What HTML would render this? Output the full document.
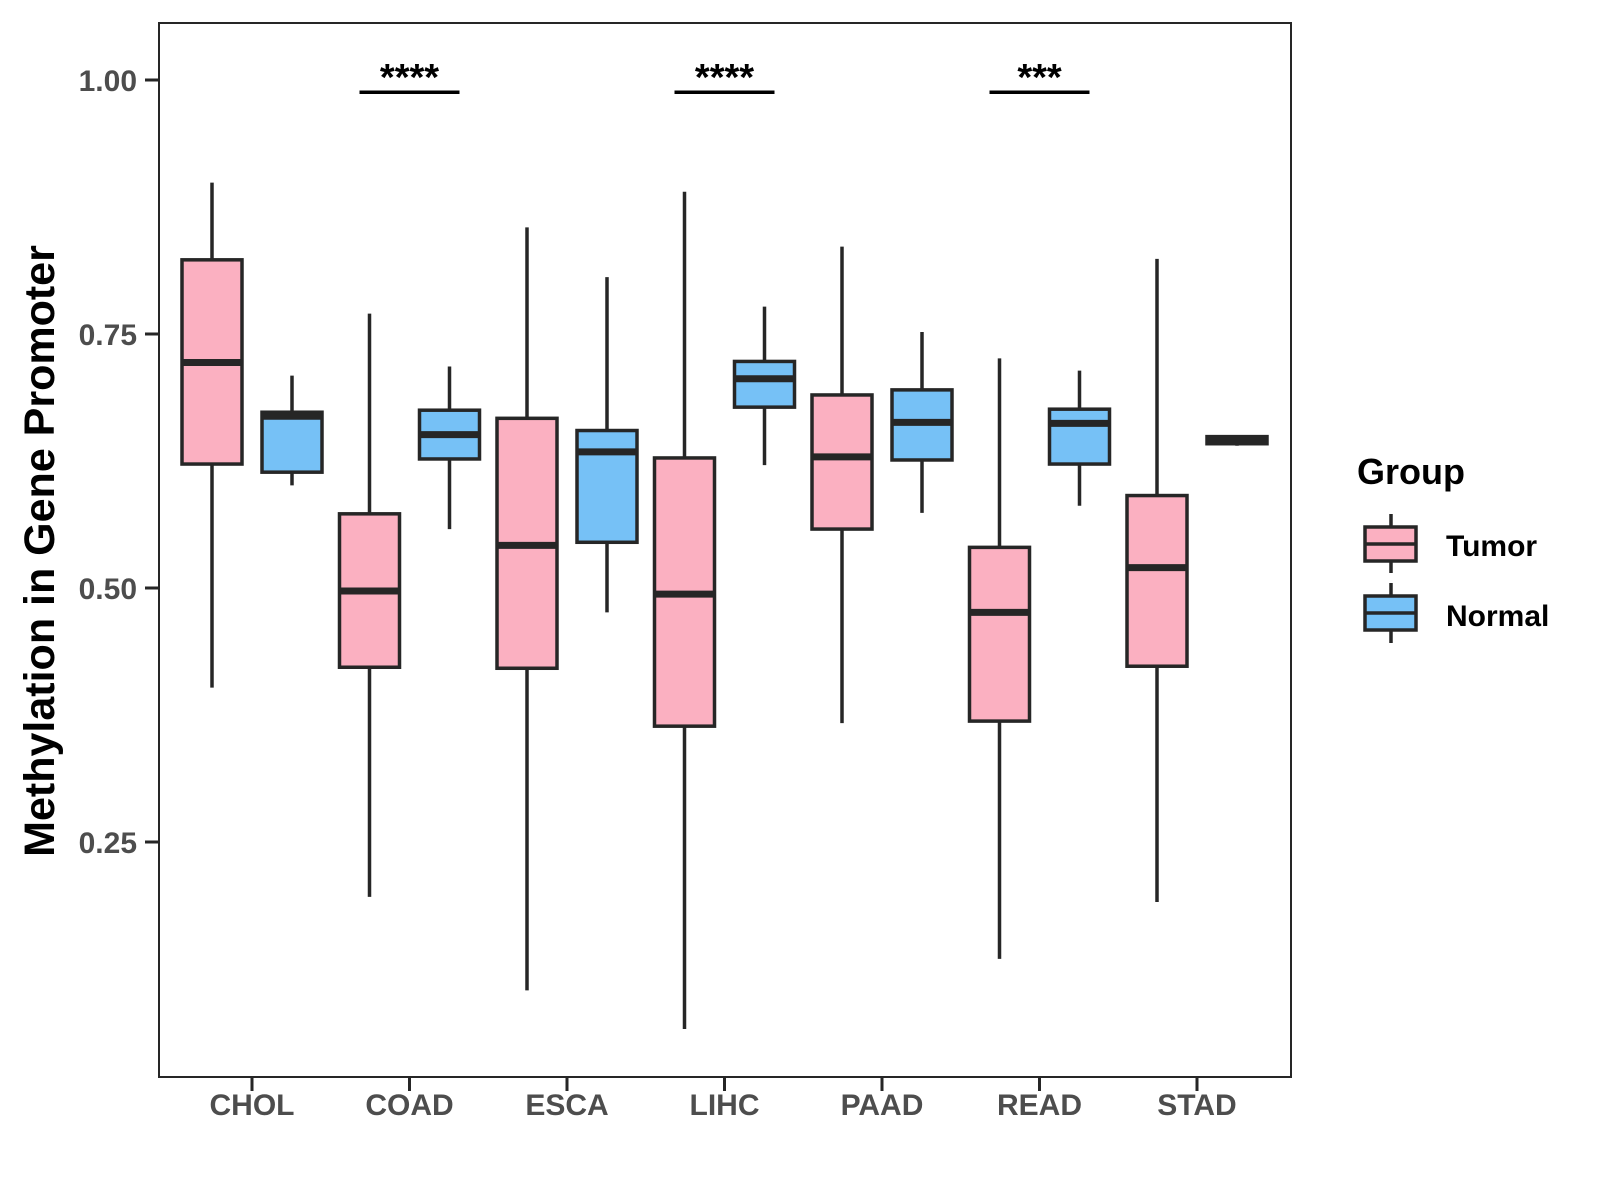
<!DOCTYPE html>
<html><head><meta charset="utf-8"><style>
body{margin:0;background:#fff}
svg{display:block;font-family:"Liberation Sans",Arial,sans-serif;font-weight:bold}
</style></head><body>
<svg id="chart" width="1600" height="1200" viewBox="0 0 1600 1200" xmlns="http://www.w3.org/2000/svg">
<rect x="0" y="0" width="1600" height="1200" fill="#fff"/>
<g id="plot"></g>
<text transform="translate(54,551) rotate(-90)" text-anchor="middle" font-size="43" fill="#000">Methylation in Gene Promoter</text>
<g>
<text x="1357" y="484" font-size="36" fill="#000">Group</text>
<g>
<line x1="1391" y1="514" x2="1391" y2="573" stroke="#262626" stroke-width="3.5"/>
<rect x="1365" y="527" width="51" height="34" fill="#FBB0C1" stroke="#262626" stroke-width="3.5"/>
<line x1="1365" y1="544" x2="1416" y2="544" stroke="#262626" stroke-width="3.5"/>
<text x="1446" y="556" font-size="30" fill="#000">Tumor</text></g>
<g>
<line x1="1391" y1="583" x2="1391" y2="643" stroke="#262626" stroke-width="3.5"/>
<rect x="1365" y="596" width="51" height="34" fill="#76C1F6" stroke="#262626" stroke-width="3.5"/>
<line x1="1365" y1="613" x2="1416" y2="613" stroke="#262626" stroke-width="3.5"/>
<text x="1446" y="626" font-size="30" fill="#000">Normal</text></g>
</g>
</svg>
<script>
const categories=["CHOL","COAD","ESCA","LIHC","PAAD","READ","STAD"];
const tumorMin=[0.402,0.196,0.104,0.066,0.367,0.135,0.191];
const tumorQ1=[0.622,0.422,0.421,0.364,0.558,0.369,0.423];
const tumorMed=[0.722,0.497,0.542,0.494,0.629,0.476,0.520];
const tumorQ3=[0.823,0.573,0.667,0.628,0.690,0.540,0.591];
const tumorMax=[0.899,0.770,0.855,0.890,0.836,0.726,0.824];
const normalMin=[0.601,0.558,0.476,0.621,0.574,0.581,0.640];
const normalQ1=[0.614,0.627,0.545,0.678,0.626,0.622,0.642];
const normalMed=[0.669,0.651,0.634,0.706,0.663,0.662,0.646];
const normalQ3=[0.673,0.675,0.655,0.723,0.695,0.676,0.649];
const normalMax=[0.709,0.718,0.806,0.777,0.752,0.714,0.650];
const yTicks=[0.25,0.50,0.75,1.00];
const yTickLabels=["0.25","0.50","0.75","1.00"];
const sigCategories=["COAD","LIHC","READ"];
const sigLabels=["****","****","***"];
const sigLevel=[0.988,0.988,0.988];

const NS="http://www.w3.org/2000/svg";
const L=159,R=1291,T=23,B=1077;
const y=v=>80+(1-v)*1016;
const x=i=>252+i*157.5;
const g=document.getElementById('plot');
function mk(tag,attrs,parent){const e=document.createElementNS(NS,tag);for(const k in attrs)e.setAttribute(k,attrs[k]);(parent||g).appendChild(e);return e;}
const frame=mk('rect',{x:L,y:T,width:R-L,height:B-T,fill:'none',stroke:'#262626','stroke-width':2});


yTicks.forEach((v,i)=>{
 const t=mk('line',{x1:L-14,x2:L,y1:y(v),y2:y(v),stroke:'#262626','stroke-width':3});
 
 
 const tx=mk('text',{x:L-22,y:y(v)+11,'text-anchor':'end','font-size':30,fill:'#4d4d4d'});
 tx.textContent=yTickLabels[i];
 
 
});
categories.forEach((c,i)=>{
 const t=mk('line',{x1:x(i),x2:x(i),y1:B,y2:B+14,stroke:'#262626','stroke-width':3});
 
 
 const tx=mk('text',{x:x(i),y:1115,'text-anchor':'middle','font-size':30,fill:'#4d4d4d'});
 tx.textContent=c;
 
 
});
function box(cx,mn,q1,md,q3,mx,fill,name){
 const bg=mk('g',{});
 
 
 mk('line',{x1:cx,x2:cx,y1:y(mx),y2:y(mn),stroke:'#262626','stroke-width':3.5},bg);
 mk('rect',{x:cx-30,y:y(q3),width:60,height:Math.max(y(q1)-y(q3),1),fill:fill,stroke:'#262626','stroke-width':3.5},bg);
 mk('line',{x1:cx-30,x2:cx+30,y1:y(md),y2:y(md),stroke:'#262626','stroke-width':7},bg);
}
categories.forEach((c,i)=>{
 box(x(i)-40,tumorMin[i],tumorQ1[i],tumorMed[i],tumorQ3[i],tumorMax[i],'#FBB0C1','box-tumor-'+c.toLowerCase());
 box(x(i)+40,normalMin[i],normalQ1[i],normalMed[i],normalQ3[i],normalMax[i],'#76C1F6','box-normal-'+c.toLowerCase());
});
sigCategories.forEach((c,k)=>{
 const i=categories.indexOf(c);
 const ln=mk('line',{x1:x(i)-50,x2:x(i)+50,y1:y(sigLevel[k]),y2:y(sigLevel[k]),stroke:'#000','stroke-width':3.5});
 
 
 const tx=mk('text',{x:x(i),y:y(sigLevel[k])-2,'text-anchor':'middle','font-size':38,fill:'#000'});
 tx.textContent=sigLabels[k];
 
 
});
</script>
</body></html>
